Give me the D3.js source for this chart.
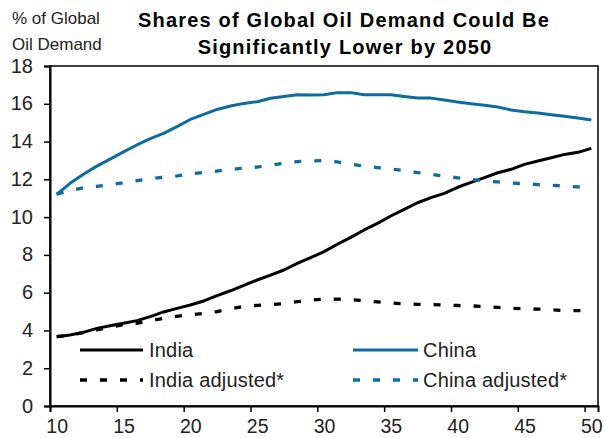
<!DOCTYPE html>
<html>
<head>
<meta charset="utf-8">
<script src="https://cdn.jsdelivr.net/npm/d3@7"></script>
<style>
  body { margin: 0; background: #fff; }
  text { font-family: "Liberation Sans", Arial, sans-serif; }
</style>
</head>
<body>
<div id="chart"></div>
<script>
// years 2010..2050 shown as 10..50
let years = d3.range(10, 51);
let india = [3.67, 3.76, 3.9, 4.11, 4.25, 4.38, 4.52, 4.73, 4.98, 5.17,
             5.35, 5.56, 5.84, 6.1, 6.39, 6.67, 6.93, 7.2, 7.55, 7.85,
             8.17, 8.56, 8.93, 9.32, 9.67, 10.06, 10.41, 10.76, 11.03, 11.26,
             11.58, 11.84, 12.09, 12.35, 12.53, 12.79, 12.97, 13.14, 13.32, 13.43,
             13.64];
let china = [11.2, 11.79, 12.27, 12.7, 13.07, 13.45, 13.82, 14.15, 14.43, 14.79,
             15.17, 15.44, 15.7, 15.88, 16.02, 16.11, 16.29, 16.39, 16.48, 16.46,
             16.48, 16.59, 16.59, 16.48, 16.48, 16.48, 16.39, 16.3, 16.3, 16.2,
             16.09, 16.0, 15.92, 15.83, 15.67, 15.58, 15.51, 15.42, 15.34, 15.25,
             15.14];
let indiaAdj = [3.67, 3.76, 3.88, 4.03, 4.17, 4.3, 4.38, 4.52, 4.64, 4.75,
                4.83, 4.9, 5.0, 5.15, 5.27, 5.33, 5.37, 5.42, 5.52, 5.6,
                5.66, 5.66, 5.63, 5.58, 5.51, 5.45, 5.41, 5.38, 5.37, 5.35,
                5.32, 5.3, 5.27, 5.22, 5.17, 5.15, 5.13, 5.1, 5.05, 5.05,
                5.05];
let chinaAdj = [11.22, 11.4, 11.55, 11.63, 11.72, 11.82, 11.93, 12.02, 12.12, 12.18,
                12.28, 12.37, 12.44, 12.52, 12.6, 12.65, 12.74, 12.85, 12.94, 12.97,
                12.99, 12.92, 12.8, 12.71, 12.62, 12.54, 12.47, 12.36, 12.27, 12.17,
                12.08, 11.99, 11.92, 11.86, 11.8, 11.77, 11.72, 11.68, 11.65, 11.6,
                11.55];
let xTicks = [10, 15, 20, 25, 30, 35, 40, 45, 50];
let yTicks = [0, 2, 4, 6, 8, 10, 12, 14, 16, 18];

let blue = "#0d6c9e";
let series = [
    {name: "India", values: india, color: "#000", dash: null},
    {name: "China", values: china, color: blue, dash: null},
    {name: "India adjusted*", values: indiaAdj, color: "#000", dash: "7,13"},
    {name: "China adjusted*", values: chinaAdj, color: blue, dash: "7,13"}
];

let width = 604, height = 438;
let margin = {top: 66, right: 6, bottom: 32, left: 50};

let svg = d3.select("#chart").append("svg")
    .attr("width", width)
    .attr("height", height);

let x = d3.scaleLinear().domain([10, 51]).range([margin.left, width - margin.right]);
let y = d3.scaleLinear().domain([0, 18]).range([height - margin.bottom, margin.top]);

// frame (top and right)
svg.append("rect")
    .attr("x", x(10))
    .attr("y", y(18))
    .attr("width", x(51) - x(10))
    .attr("height", y(0) - y(18))
    .attr("fill", "none")
    .attr("stroke", "#000")
    .attr("stroke-width", 1.5);

// y axis
let yAxis = svg.append("g")
    .attr("transform", `translate(${x(10)},0)`)
    .call(d3.axisLeft(y).tickValues(yTicks).tickSize(6).tickFormat(d3.format("d")));
yAxis.select(".domain").attr("stroke-width", 2);
yAxis.selectAll(".tick line").attr("stroke-width", 1.5);
yAxis.selectAll(".tick text")
    .attr("x", 33 - x(10))
    .attr("dy", "0.3em")
    .attr("font-size", 20)
    .attr("fill", "#222");

// x axis, labels sit mid-year
let xAxis = svg.append("g")
    .attr("transform", `translate(0,${y(0)})`)
    .call(d3.axisBottom(x).tickValues(xTicks).tickSize(6).tickFormat(d3.format("d")));
xAxis.select(".domain").attr("stroke-width", 2);
xAxis.selectAll(".tick line").attr("stroke-width", 1.5);
xAxis.selectAll(".tick text")
    .attr("dx", x(10.5) - x(10))
    .attr("y", 27)
    .attr("dy", null)
    .attr("font-size", 19.5)
    .attr("fill", "#222");

// lines (each year's point sits mid-way through its year)
let line = d3.line()
    .x((d, i) => x(years[i] + 0.5))
    .y(d => y(d));

svg.selectAll(".series")
    .data(series)
    .join("path")
    .attr("class", "series")
    .attr("d", d => line(d.values))
    .attr("fill", "none")
    .attr("stroke", d => d.color)
    .attr("stroke-width", d => d.dash ? 3.3 : 3)
    .attr("stroke-dasharray", d => d.dash)
    .attr("stroke-linejoin", "round");

// legend
let legendPos = [
    {lx: 80, ly: 350}, {lx: 353, ly: 350},
    {lx: 80, ly: 380}, {lx: 353, ly: 380}
];
let legend = svg.selectAll(".legend")
    .data(series)
    .join("g")
    .attr("class", "legend")
    .attr("transform", (d, i) => `translate(${legendPos[i].lx},${legendPos[i].ly})`);
legend.append("line")
    .attr("x1", 0).attr("x2", d => d.color === blue ? 65 : 63)
    .attr("stroke", d => d.color)
    .attr("stroke-width", d => d.dash ? 3.3 : 3)
    .attr("stroke-dasharray", d => d.dash);
legend.append("text")
    .attr("x", d => d.color === blue ? 70 : 69)
    .attr("y", 7)
    .attr("font-size", 20)
    .attr("letter-spacing", 0.2)
    .attr("fill", "#222")
    .text(d => d.name);

// y label
svg.append("text")
    .attr("x", 12).attr("y", 24)
    .attr("font-size", 17)
    .attr("fill", "#222")
    .text("% of Global");
svg.append("text")
    .attr("x", 12).attr("y", 50)
    .attr("font-size", 17)
    .attr("fill", "#222")
    .text("Oil Demand");

// title
svg.append("text")
    .attr("x", 344).attr("y", 27)
    .attr("text-anchor", "middle")
    .attr("font-size", 20)
    .attr("letter-spacing", 1.2)
    .attr("font-weight", "bold")
    .text("Shares of Global Oil Demand Could Be");
svg.append("text")
    .attr("x", 345).attr("y", 54)
    .attr("text-anchor", "middle")
    .attr("font-size", 20)
    .attr("letter-spacing", 1.2)
    .attr("font-weight", "bold")
    .text("Significantly Lower by 2050");
</script>
</body>
</html>
